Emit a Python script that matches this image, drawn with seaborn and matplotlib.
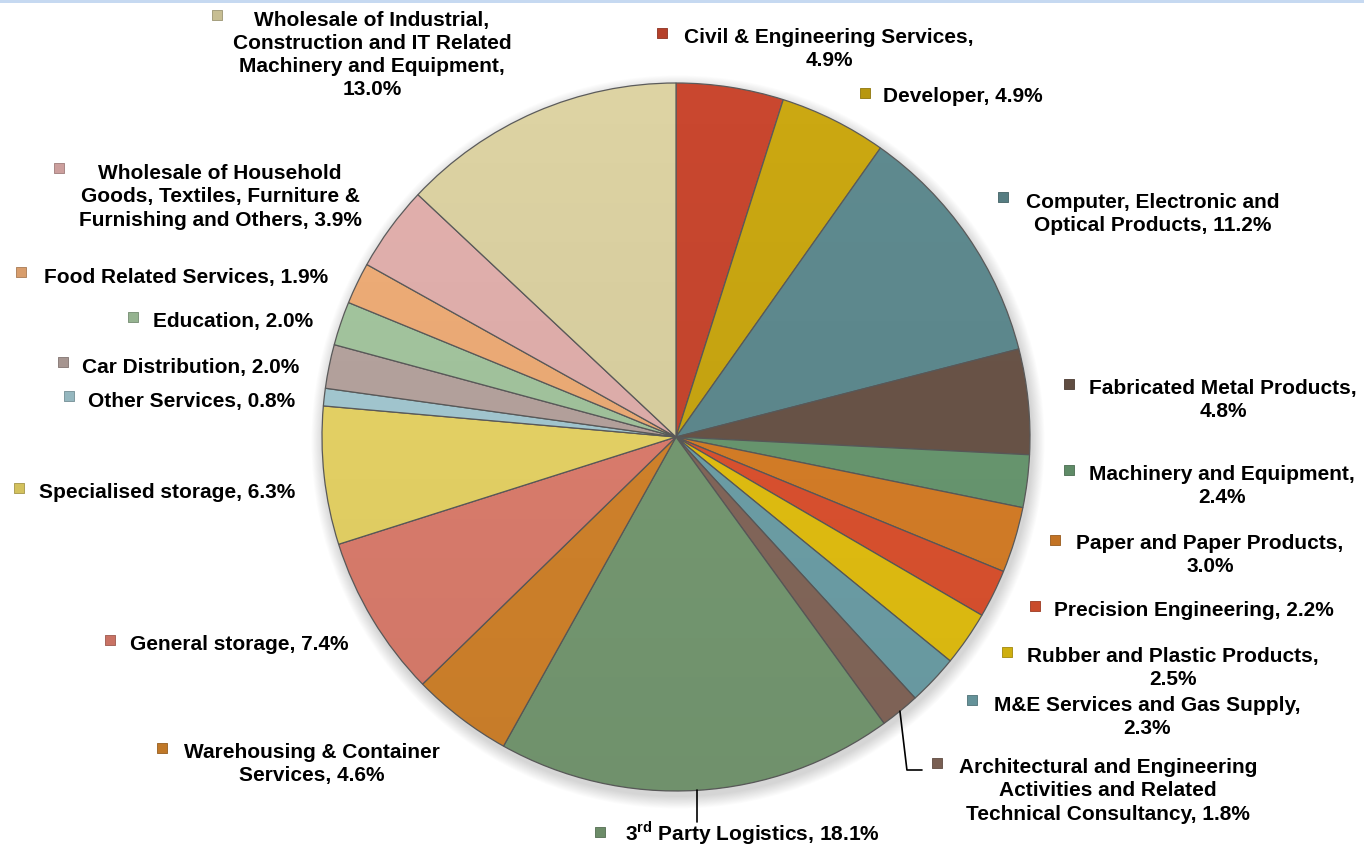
import numpy as np
import matplotlib
matplotlib.use("Agg")
import matplotlib.pyplot as plt
import seaborn as sns
from matplotlib.patches import Circle, Rectangle

# ---- data (clockwise from 12 o'clock) ----
categories = [
    "Civil & Engineering Services", "Developer",
    "Computer, Electronic and Optical Products", "Fabricated Metal Products",
    "Machinery and Equipment", "Paper and Paper Products",
    "Precision Engineering", "Rubber and Plastic Products",
    "M&E Services and Gas Supply",
    "Architectural and Engineering Activities and Related Technical Consultancy",
    "3rd Party Logistics", "Warehousing & Container Services",
    "General storage", "Specialised storage", "Other Services",
    "Car Distribution", "Education", "Food Related Services",
    "Wholesale of Household Goods, Textiles, Furniture & Furnishing and Others",
    "Wholesale of Industrial, Construction and IT Related Machinery and Equipment",
]
shares = [4.9, 4.9, 11.2, 4.8, 2.4, 3.0, 2.2, 2.5, 2.3, 1.8,
          18.1, 4.6, 7.4, 6.3, 0.8, 2.0, 2.0, 1.9, 3.9, 13.0]
colors = ["#c9472f", "#cba812", "#5f8b90", "#6b5549", "#6a9a72", "#d98028",
          "#df5330", "#e6c211", "#6fa2aa", "#86695c", "#789c74", "#d5852c",
          "#df7f6f", "#ead667", "#a6cbd4", "#b8a5a0", "#a5c7a0", "#f0ae78",
          "#e3b1ae", "#ddd3a3"]

# label text with line breaks; {v} is replaced by the share
label_fmt = [
    "Civil & Engineering Services,\n{v}",
    "Developer, {v}",
    "Computer, Electronic and\nOptical Products, {v}",
    "Fabricated Metal Products,\n{v}",
    "Machinery and Equipment,\n{v}",
    "Paper and Paper Products,\n{v}",
    "Precision Engineering, {v}",
    "Rubber and Plastic Products,\n{v}",
    "M&E Services and Gas Supply,\n{v}",
    "Architectural and Engineering\nActivities and Related\nTechnical Consultancy, {v}",
    r"3$^{\mathbf{rd}}$ Party Logistics, {v}",
    "Warehousing & Container\nServices, {v}",
    "General storage, {v}",
    "Specialised storage, {v}",
    "Other Services, {v}",
    "Car Distribution, {v}",
    "Education, {v}",
    "Food Related Services, {v}",
    "Wholesale of Household\nGoods, Textiles, Furniture &\nFurnishing and Others, {v}",
    "Wholesale of Industrial,\nConstruction and IT Related\nMachinery and Equipment,\n{v}",
]

# label layout in pixel coordinates: (marker x, marker y, text centre x, first-line y)
label_pos = [
    (662, 33, 829, 35), (865, 93, 963, 95), (1003, 197, 1153, 200),
    (1069, 384, 1223, 386), (1069, 470, 1222, 472), (1055, 540, 1210, 541),
    (1035, 606, 1194, 609), (1007, 652, 1173, 654), (972, 700, 1147, 703),
    (937, 763, 1108, 765), (600, 832, 752, 833), (162, 748, 312, 750),
    (110, 640, 239, 642), (19, 488, 167, 490), (69, 396, 192, 399),
    (63, 362, 191, 365), (133, 317, 233, 320), (21, 272, 186, 276),
    (59, 168, 220, 171), (217, 15, 372, 17),
]
leader_slices = {"3rd Party Logistics", categories[9]}

W, H = 1364, 846
CX, CY, R = 676, 437, 354
LINE_GAP = 23.5

sns.set_theme(style="white")
plt.rcParams["font.family"] = ["Liberation Sans", "DejaVu Sans"]
plt.rcParams["mathtext.fontset"] = "custom"
plt.rcParams["mathtext.rm"] = "Liberation Sans:bold"
plt.rcParams["mathtext.bf"] = "Liberation Sans:bold"

fig = plt.figure(figsize=(W / 100, H / 100), dpi=100, facecolor="white")
ax = fig.add_axes([0, 0, 1, 1])

# soft drop shadow under the pie
for k in range(14, 0, -1):
    ax.add_patch(Circle((CX + 2, CY + 5), R + k * 0.9, facecolor="#000000",
                        alpha=0.012, edgecolor="none", zorder=0))

# y axis runs downward, so counterclockwise in data space is clockwise on screen
wedges, _ = ax.pie(shares, colors=colors, startangle=-90, counterclock=True,
                   center=(CX, CY), radius=R,
                   wedgeprops=dict(edgecolor="#5b5b5b", linewidth=0.9))
for w in wedges:
    w.set_zorder(2)

ax.set_xlim(0, W)
ax.set_ylim(H, 0)
ax.set_aspect("equal")
ax.axis("off")

# gentle top-to-bottom darkening across the pie
ramp = np.linspace(0.0, 0.07, 256)
shade_img = np.zeros((256, 1, 4))
shade_img[:, 0, 3] = ramp
shade = ax.imshow(shade_img, extent=(CX - R, CX + R, CY + R, CY - R), zorder=3,
                  interpolation="bilinear", aspect="auto")
clip = Circle((CX, CY), R, transform=ax.transData)
shade.set_clip_path(clip)
ax.set_xlim(0, W)
ax.set_ylim(H, 0)


def darker(c, f=0.85):
    r, g, b = matplotlib.colors.to_rgb(c)
    return (r * f, g * f, b * f)


for cat, val, col, fmt, (mx, my, tx, ty), w in zip(
        categories, shares, colors, label_fmt, label_pos, wedges):
    text = fmt.replace("{v}", f"{val:.1f}%")
    n_lines = text.count("\n") + 1
    ax.scatter([mx], [my], marker="s", s=48, color=darker(col, 0.9),
               edgecolor=matplotlib.colors.to_hex(darker(col, 0.7)),
               linewidth=0.6, zorder=5)
    # baseline of the last line
    ax.text(tx, ty + 7.5 + (n_lines - 1) * LINE_GAP, text, ha="center",
            va="baseline", fontsize=15, fontweight="bold", color="black",
            linespacing=1.27, zorder=5)
    if cat in leader_slices:
        mid = np.deg2rad((w.theta1 + w.theta2) / 2)
        sx = CX + R * np.cos(mid)
        sy = CY + R * np.sin(mid)
        if cat == "3rd Party Logistics":
            ax.plot([sx, sx], [sy, my - 10], color="black", lw=1.2, zorder=5)
        else:
            ax.plot([sx, sx + 7, mx - 15], [sy, my + 7, my + 7],
                    color="black", lw=1.2, zorder=5)

# thin band along the top edge
fig.patches.append(Rectangle((0, 1 - 3 / H), 1, 3 / H, transform=fig.transFigure,
                             facecolor="#c6d9f1", edgecolor="none"))

fig.savefig("out.png", dpi=100, facecolor="white")
